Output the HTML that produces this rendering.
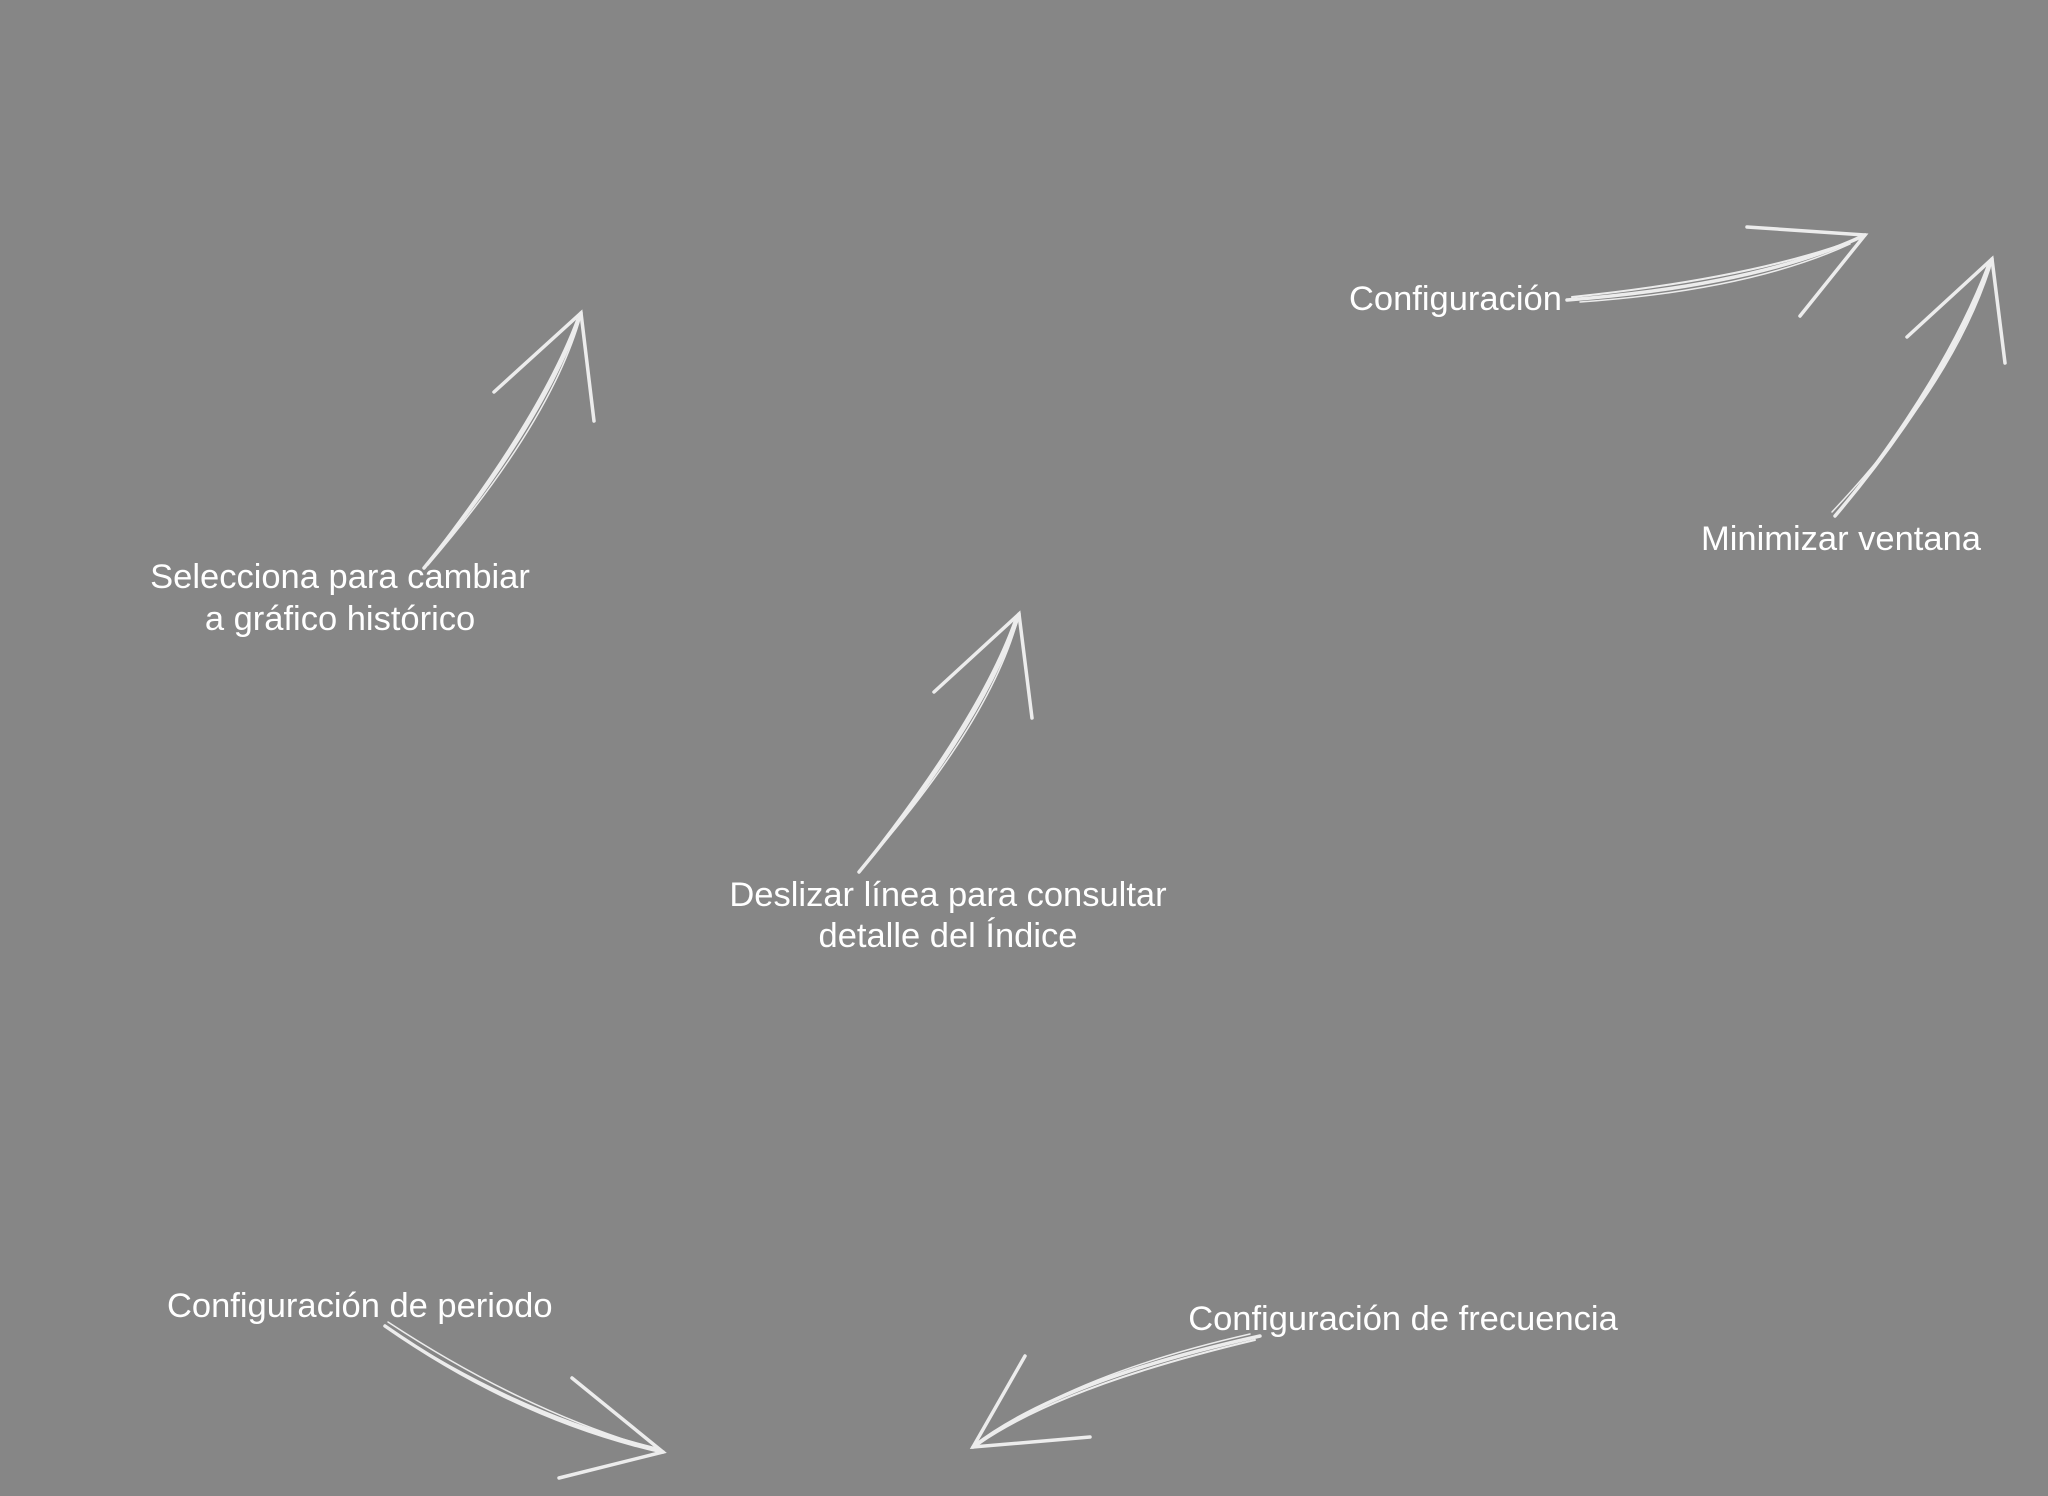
<!DOCTYPE html>
<html><head><meta charset="utf-8"><style>
html,body{margin:0;padding:0;background:#868686;}
svg{display:block}
text{font-family:"Liberation Sans",sans-serif;font-size:34.5px;fill:#fff;}
</style></head><body>
<svg width="2048" height="1496" viewBox="0 0 2048 1496" xmlns="http://www.w3.org/2000/svg">
<rect width="2048" height="1496" fill="#868686"/>
<g stroke="#f2f2f2" stroke-width="3.5" fill="none" stroke-linecap="round" opacity="0.95">
<!-- Configuración -->
<path d="M1567,300 Q1760,285 1865,235"/><path d="M1572,297 Q1755,278 1860,238" stroke-width="2"/><path d="M1580,302 Q1750,290 1850,244" stroke-width="1.5"/>
<path d="M1747,227 L1865,235 L1800,316"/>
<!-- Minimizar -->
<path d="M1835,516 Q1950,380 1992,259"/><path d="M1840,510 Q1945,378 1988,265" stroke-width="2"/><path d="M1832,512 Q1952,385 1990,268" stroke-width="1.5"/>
<path d="M1907,337 L1992,259 L2005,363"/>
<!-- Selecciona -->
<path d="M424,568 Q545,420 581,313"/><path d="M430,560 Q540,418 577,320" stroke-width="2"/><path d="M428,565 Q548,425 579,322" stroke-width="1.5"/>
<path d="M494,392 L581,313 L594,421"/>
<!-- Deslizar -->
<path d="M859,872 Q985,720 1019,614"/><path d="M865,864 Q980,718 1015,620" stroke-width="2"/><path d="M862,868 Q988,725 1017,622" stroke-width="1.5"/>
<path d="M934,692 L1019,614 L1032,718"/>
<!-- periodo -->
<path d="M385,1326 Q520,1420 663,1452"/><path d="M390,1330 Q520,1415 655,1448" stroke-width="2"/><path d="M388,1322 Q525,1412 658,1450" stroke-width="1.5"/>
<path d="M572,1378 L663,1452 L559,1478"/>
<!-- frecuencia -->
<path d="M1260,1336 Q1060,1380 973,1447"/><path d="M1255,1340 Q1065,1385 980,1443" stroke-width="2"/><path d="M1250,1334 Q1070,1375 978,1445" stroke-width="1.5"/>
<path d="M1025,1356 L973,1447 L1090,1437"/>
</g>
<text x="1349" y="310">Configuración</text>
<text x="1841" y="550" text-anchor="middle">Minimizar ventana</text>
<text x="340" y="588" text-anchor="middle">Selecciona para cambiar</text>
<text x="340" y="630" text-anchor="middle">a gráfico histórico</text>
<text x="948" y="906" text-anchor="middle">Deslizar línea para consultar</text>
<text x="948" y="947" text-anchor="middle">detalle del Índice</text>
<text x="167" y="1317">Configuración de periodo</text>
<text x="1403" y="1330" text-anchor="middle">Configuración de frecuencia</text>
</svg>
</body></html>
